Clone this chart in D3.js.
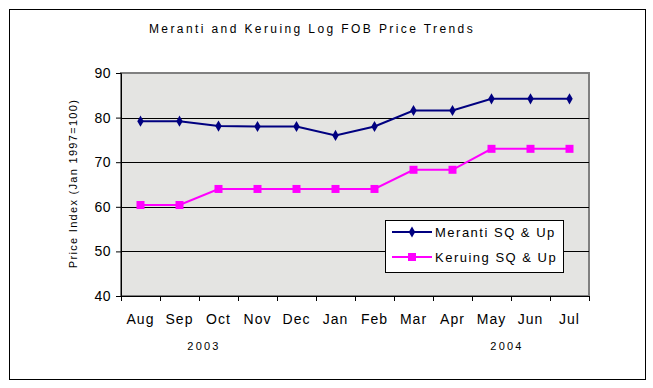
<!DOCTYPE html>
<html>
<head>
<meta charset="utf-8">
<script src="https://cdn.jsdelivr.net/npm/d3@7"></script>
<style>
  body { margin: 0; background: #fff; }
  text { font-family: "Liberation Sans", Arial, sans-serif; fill: #000; }
</style>
</head>
<body>
<div id="chart"></div>
<script>
// chart data
const months = ["Aug", "Sep", "Oct", "Nov", "Dec", "Jan", "Feb", "Mar", "Apr", "May", "Jun", "Jul"];
const meranti = [79.2, 79.2, 78.1, 78.0, 78.0, 76.0, 78.0, 81.6, 81.6, 84.2, 84.2, 84.2];
const keruing = [60.4, 60.4, 64.0, 64.0, 64.0, 64.0, 64.0, 68.3, 68.3, 73.0, 73.0, 73.0];
const yTicks = [40, 50, 60, 70, 80, 90];
const years = [{ label: "2003", month: "Oct" }, { label: "2004", month: "Jun" }];

const width = 653, height = 388;
const plot = { left: 121, right: 589, top: 73, bottom: 296 };

const svg = d3.select("#chart").append("svg")
  .attr("width", width)
  .attr("height", height);

// outer frame
svg.append("rect")
  .attr("x", 9.5).attr("y", 9.5)
  .attr("width", 636).attr("height", 370)
  .attr("fill", "#fff").attr("stroke", "#000").attr("stroke-width", 1);

// title
svg.append("text")
  .attr("x", 312).attr("y", 33)
  .attr("text-anchor", "middle")
  .style("font-size", "12px")
  .style("letter-spacing", "2.4px")
  .text("Meranti and Keruing Log FOB Price Trends");

const x = d3.scaleBand().domain(months).range([plot.left, plot.right]);
const y = d3.scaleLinear().domain([40, 90]).range([plot.bottom, plot.top]);

// plot background
svg.append("rect")
  .attr("x", plot.left).attr("y", plot.top)
  .attr("width", plot.right - plot.left).attr("height", plot.bottom - plot.top)
  .attr("fill", "#e4e4e2")
  .attr("stroke", "#808080").attr("stroke-width", 2);

// gridlines
svg.append("g")
  .selectAll("line")
  .data(yTicks.slice(1, -1))
  .join("line")
  .attr("x1", plot.left).attr("x2", plot.right)
  .attr("y1", d => Math.round(y(d)) + 0.5).attr("y2", d => Math.round(y(d)) + 0.5)
  .attr("stroke", "#000");

// y axis
const yAxis = svg.append("g")
  .attr("transform", `translate(${plot.left},0)`)
  .call(d3.axisLeft(y).tickValues(yTicks).tickSize(5).tickPadding(5));
yAxis.selectAll("text").style("font-size", "14px").style("letter-spacing", "0.5px");
yAxis.selectAll("line,path").attr("stroke", "#000");

// x axis, ticks on band edges
const xAxis = svg.append("g")
  .attr("transform", `translate(0,${plot.bottom})`);
xAxis.append("line")
  .attr("x1", plot.left).attr("x2", plot.right)
  .attr("y1", 0.5).attr("y2", 0.5)
  .attr("stroke", "#000");
xAxis.selectAll(".tick-mark")
  .data(months.concat(["end"]))
  .join("line")
  .attr("class", "tick-mark")
  .attr("x1", (d, i) => Math.round(plot.left + i * x.step()) + 0.5)
  .attr("x2", (d, i) => Math.round(plot.left + i * x.step()) + 0.5)
  .attr("y1", 0).attr("y2", 5)
  .attr("stroke", "#000");
xAxis.selectAll(".month")
  .data(months)
  .join("text")
  .attr("class", "month")
  .attr("x", d => x(d) + x.bandwidth() / 2)
  .attr("y", 28)
  .attr("text-anchor", "middle")
  .style("font-size", "14px")
  .style("letter-spacing", "1px")
  .text(d => d);

// year labels sit near the band edge of their month
svg.selectAll(".year")
  .data(years)
  .join("text")
  .attr("class", "year")
  .attr("x", (d, i) => x(d.month) + (i === 0 ? 5 : -4))
  .attr("y", 350)
  .attr("text-anchor", "middle")
  .style("font-size", "11px")
  .style("letter-spacing", "2.2px")
  .text(d => d.label);

// y axis title
svg.append("text")
  .attr("transform", `translate(77,${(plot.top + plot.bottom) / 2 - 1}) rotate(-90)`)
  .attr("text-anchor", "middle")
  .style("font-size", "11px")
  .style("letter-spacing", "1.3px")
  .text("Price Index (Jan 1997=100)");

const line = d3.line()
  .x((d, i) => x(months[i]) + x.bandwidth() / 2)
  .y(d => y(d));

// meranti series
svg.append("path")
  .datum(meranti)
  .attr("d", line)
  .attr("fill", "none")
  .attr("stroke", "#000080")
  .attr("stroke-width", 2);
svg.selectAll(".diamond")
  .data(meranti)
  .join("path")
  .attr("class", "diamond")
  .attr("d", d3.symbol(d3.symbolDiamond, 36))
  .attr("transform", (d, i) => `translate(${x(months[i]) + x.bandwidth() / 2},${y(d)})`)
  .attr("fill", "#000080");

// keruing series
svg.append("path")
  .datum(keruing)
  .attr("d", line)
  .attr("fill", "none")
  .attr("stroke", "#ff00ff")
  .attr("stroke-width", 2);
svg.selectAll(".square")
  .data(keruing)
  .join("rect")
  .attr("class", "square")
  .attr("x", (d, i) => x(months[i]) + x.bandwidth() / 2 - 4)
  .attr("y", d => y(d) - 4)
  .attr("width", 8).attr("height", 8)
  .attr("fill", "#ff00ff");

// legend
const legend = svg.append("g").attr("transform", "translate(385,220)");
legend.append("rect")
  .attr("x", 0.5).attr("y", 0.5)
  .attr("width", 178).attr("height", 52)
  .attr("fill", "#fff").attr("stroke", "#000");

const legendItems = [
  { name: "Meranti SQ & Up", color: "#000080", marker: "diamond" },
  { name: "Keruing SQ & Up", color: "#ff00ff", marker: "square" }
];
const item = legend.selectAll(".item")
  .data(legendItems)
  .join("g")
  .attr("class", "item")
  .attr("transform", (d, i) => `translate(0,${12 + i * 25})`);
item.append("line")
  .attr("x1", 7).attr("x2", 47)
  .attr("stroke", d => d.color).attr("stroke-width", 2);
item.filter(d => d.marker === "diamond").append("path")
  .attr("d", d3.symbol(d3.symbolDiamond, 36))
  .attr("transform", "translate(27,0)")
  .attr("fill", d => d.color);
item.filter(d => d.marker === "square").append("rect")
  .attr("x", 23).attr("y", -4).attr("width", 8).attr("height", 8)
  .attr("fill", d => d.color);
item.append("text")
  .attr("x", 50).attr("y", 5)
  .style("font-size", "13px")
  .style("letter-spacing", "1.5px")
  .text(d => d.name);
</script>
</body>
</html>
